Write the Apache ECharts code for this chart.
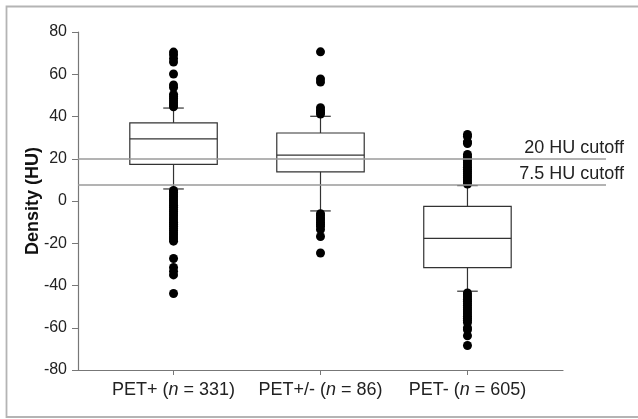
<!DOCTYPE html>
<html><head><meta charset="utf-8">
<script src="https://cdn.jsdelivr.net/npm/echarts@6/dist/echarts.min.js"></script>
<style>html,body{margin:0;padding:0;background:#fff}#c{width:638px;height:419px}</style>
</head><body><div id="c"></div>
<script>
// ---- data ----
const categories = ['PET+', 'PET+/-', 'PET-'];
const groupN = [331, 86, 605];
// per group: [lower whisker, Q1, median, Q3, upper whisker]
const statsPETpos = [5.7, 17.3, 29.4, 37.0, 44.0];
const statsPETmid = [-4.7, 13.8, 21.7, 32.2, 40.1];
const statsPETneg = [-42.7, -31.5, -17.7, -2.5, 7.3];
const outliersPETpos = [70.5, 69.2, 67.4, 65.8, 60.1, 54.9, 53.7, 50.5, 49.5, 48.5, 47.5, 46.5, 45.5, 44.6,
  5, 4, 3, 2, 1, 0, -1, -2, -3, -4, -5, -6, -7, -8, -9, -10, -11, -12, -13, -14, -15, -16, -17, -18, -19,
  -27.2, -31.5, -33.3, -35, -43.8];
const outliersPETmid = [70.6, 57.8, 56.3, 44.2, 43, 42, 41.2,
  -6, -7, -8, -9, -10, -11, -12, -13.5, -16.8, -24.6];
const outliersPETneg = [31.5, 30.5, 28, 27.2, 22, 21, 20, 19, 18, 17, 16, 15, 14, 13, 12, 11, 10, 9, 8,
  -43.5, -44.5, -45.5, -46.5, -47.5, -48.5, -49.5, -50.5, -51.5, -52.5, -53.5, -54.5, -55.5, -56.5, -57.5,
  -60, -61, -63.8, -68.4];
const cutoffValues = [20, 7.5];
const cutoffLabels = ['20 HU cutoff', '7.5 HU cutoff'];
const yTickValues = [-80, -60, -40, -20, 0, 20, 40, 60, 80];
const yTitle = 'Density (HU)';

// ---- build ----
const allStats = [statsPETpos, statsPETmid, statsPETneg];
const allOutliers = [outliersPETpos, outliersPETmid, outliersPETneg];
const positions = categories.map((c, i) => i + 1);
const boxData = allStats.map((s, i) => [positions[i]].concat(s));
const outlierData = [];
allOutliers.forEach((arr, i) => arr.forEach(v => outlierData.push([positions[i], v])));

const BOX_W = 0.595, CAP_W = 0.14;
const FONT = '"Liberation Sans", Arial, sans-serif';
const yMin = yTickValues[0], yMax = yTickValues[yTickValues.length - 1];
const yInt = yTickValues[1] - yTickValues[0];

const chart = echarts.init(document.getElementById('c'), null, {renderer: 'canvas'});
chart.setOption({
  animation: false,
  backgroundColor: '#fff',
  graphic: [{type: 'rect', shape: {x: 6.5, y: 6.5, width: 640, height: 410.5},
    style: {fill: 'none', stroke: '#b4b4b4', lineWidth: 1.8}, silent: true}],
  grid: [
    {left: 78, right: 75, top: 32, bottom: 49},
    {left: 78, right: 32, top: 32, bottom: 49}
  ],
  xAxis: [
    {gridIndex: 0, type: 'value', min: 0.35, max: 3.65,
      axisLine: {show: true, onZero: false, lineStyle: {color: '#777', width: 1.2}},
      axisTick: {show: true, length: 5, customValues: positions, lineStyle: {color: '#777'}},
      splitLine: {show: false},
      axisLabel: {customValues: positions, margin: 11, color: '#222', fontFamily: FONT, fontSize: 18,
        formatter: v => {
          const i = Math.round(v) - 1;
          return categories[i] + ' ({i|n} = ' + groupN[i] + ')';
        },
        rich: {i: {fontStyle: 'italic', fontFamily: FONT, fontSize: 18, color: '#222'}}}},
    {gridIndex: 1, type: 'value', min: 0, max: 1, show: false}
  ],
  yAxis: [
    {gridIndex: 0, type: 'value', min: yMin, max: yMax, interval: yInt,
      name: yTitle, nameLocation: 'middle', nameGap: 36, nameMoveOverlap: false,
      nameTextStyle: {fontFamily: FONT, fontSize: 18, fontWeight: 'bold', color: '#111'},
      axisLine: {show: true, onZero: false, lineStyle: {color: '#777', width: 1.2}},
      axisTick: {show: true, length: 6, lineStyle: {color: '#777'}},
      splitLine: {show: false},
      axisLabel: {margin: 11, color: '#222', fontFamily: FONT, fontSize: 16}},
    {gridIndex: 1, type: 'value', min: yMin, max: yMax, show: false}
  ],
  series: [
    {type: 'line', xAxisIndex: 1, yAxisIndex: 1, data: [], silent: true,
      markLine: {symbol: 'none', silent: true,
        lineStyle: {color: '#9a9a9a', width: 1.5, type: 'solid'},
        label: {position: 'insideEndTop', distance: 2, offset: [20, 0], color: '#222', fontFamily: FONT, fontSize: 18,
          formatter: p => cutoffLabels[cutoffValues.indexOf(p.value)]},
        data: cutoffValues.map(v => ({yAxis: v}))}},
    {type: 'custom', xAxisIndex: 0, yAxisIndex: 0, data: boxData, z: 3,
      renderItem: (params, api) => {
        const x = api.value(0);
        const lw = api.coord([x, api.value(1)]);
        const q1 = api.coord([x, api.value(2)]);
        const md = api.coord([x, api.value(3)]);
        const q3 = api.coord([x, api.value(4)]);
        const uw = api.coord([x, api.value(5)]);
        const hb = api.size([BOX_W, 0])[0] / 2;
        const hc = api.size([CAP_W, 0])[0] / 2;
        const st = {stroke: '#333', lineWidth: 1.2, fill: 'none'};
        const ln = (x1, y1, x2, y2) => ({type: 'line', shape: {x1, y1, x2, y2}, style: st});
        return {type: 'group', children: [
          {type: 'rect', shape: {x: q3[0] - hb, y: q3[1], width: 2 * hb, height: q1[1] - q3[1]}, style: st},
          ln(md[0] - hb, md[1], md[0] + hb, md[1]),
          ln(q3[0], q3[1], uw[0], uw[1]),
          ln(q1[0], q1[1], lw[0], lw[1]),
          ln(uw[0] - hc, uw[1], uw[0] + hc, uw[1]),
          ln(lw[0] - hc, lw[1], lw[0] + hc, lw[1])
        ]};
      }},
    {type: 'scatter', xAxisIndex: 0, yAxisIndex: 0, data: outlierData, z: 4,
      symbol: 'circle', symbolSize: 9, itemStyle: {color: '#000', opacity: 1}}
  ]
});
</script></body></html>
